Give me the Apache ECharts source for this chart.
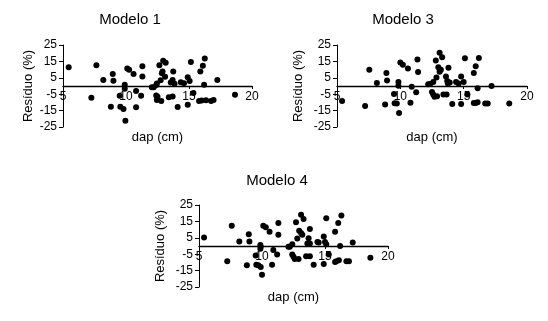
<!DOCTYPE html>
<html>
<head>
<meta charset="utf-8">
<script src="https://cdn.jsdelivr.net/npm/echarts@6/dist/echarts.min.js"></script>
<style>
  html, body { margin: 0; padding: 0; background: #fff; }
  #chart { width: 548px; height: 321px; }
</style>
</head>
<body>
<div id="chart"></div>
<script>
// residuals (%) vs dap (cm)
const modelo1X = [5.45, 7.25, 7.65, 8.2, 8.8, 8.95, 9.0, 9.5, 9.55, 9.8, 9.9, 9.9, 9.95, 10.1, 10.25, 10.6, 10.8, 10.8, 11.2, 11.3, 11.3,
  12.05, 12.2, 12.4, 12.45, 12.4, 12.45, 12.5, 12.65, 12.75, 12.8, 12.85, 12.9, 12.95, 13.15, 13.1, 13.4, 13.7, 13.55, 13.7, 13.75,
  13.85, 14.1, 14.35, 14.6, 14.9, 14.9, 15.05, 15.15, 15.35, 15.8, 15.9, 16.0, 16.1, 16.2, 16.25, 16.35, 16.75, 16.95, 17.25, 18.65]
const modelo1Y = [11.5, -7.2, 12.7, 3.6, -12.6, 7.3, 3.2, -6.0, -12.6, -14.1, 0.7, -1.7, -21.2, 10.6, 9.9, 7.3, -3.0, -13.0, -5.9, 12.0, 5.8,
  -0.7, -0.7, 0.6, 1.6, -5.8, -8.5, -6.5, 12.6, 3.5, -9.2, 7.8, 8.8, 15.4, 14.2, 5.6, -6.8, -6.4, 2.2, 3.7, 8.8,
  1.4, -12.8, 2.3, 1.7, 5.3, -11.5, 3.0, 14.6, -4.2, -9.2, 8.9, -8.8, 12.3, 0.7, 16.7, -8.7, -9.2, -8.5, 3.6, -5.3]

const modelo3X = [5.4, 7.22, 7.55, 8.15, 8.8, 8.9, 8.95, 9.5, 9.55, 9.72, 9.85, 9.85, 9.9, 10.0, 10.2, 10.6, 10.8, 10.9, 11.25, 11.35, 11.4,
  12.2, 12.35, 12.6, 12.5, 12.6, 12.7, 12.8, 12.85, 12.9, 13.0, 13.1, 13.2, 13.1, 13.3, 13.4, 13.65, 13.6, 13.7, 13.75, 13.8,
  13.9, 14.1, 14.4, 14.6, 14.8, 14.8, 15.0, 15.1, 15.3, 15.8, 15.8, 15.95, 16.1, 15.95, 16.1, 16.2, 16.7, 16.9, 17.2, 18.6]
const modelo3Y = [-9.2, -12.2, 9.9, 1.8, -11.3, 7.9, 3.4, -4.9, -10.5, -10.7, 2.4, 0.1, -16.4, 14.4, 13.0, 10.6, -10.2, -0.4, -3.8, 16.2, 8.6,
  1.0, 1.2, 2.5, -3.7, -5.2, -6.6, 15.5, 5.2, -6.2, 11.4, 8.7, 9.9, 20.2, 17.6, -5.2, -5.2, 5.8, 3.1, 1.6, 11.2,
  2.1, -11.0, 2.5, 1.6, 5.8, -11.0, 2.5, 16.9, -5.2, 7.9, -10.3, -10.3, -9.9, 12.0, -1.4, 17.1, -10.7, -10.7, 0.0, -10.7]

const modelo4X = [5.4, 7.24, 7.6, 8.2, 8.8, 8.95, 9.0, 9.5, 9.55, 9.7, 9.87, 9.87, 9.9, 9.9, 10.0, 10.1, 10.3, 10.6, 10.8, 10.9, 11.2,
  11.3, 11.3, 12.1, 12.2, 12.4, 12.4, 12.5, 12.6, 12.7, 12.8, 12.9, 12.95, 13.1, 13.2, 13.1, 13.3, 13.5, 13.8, 13.6, 13.7, 13.8,
  13.8, 14.1, 14.4, 14.5, 14.9, 14.9, 15.0, 15.1, 15.1, 15.3, 15.8, 15.8, 15.9, 16.1, 16.05, 16.2, 16.3, 16.7, 16.9, 17.2, 18.6]
const modelo4Y = [5.2, -9.3, 12.4, 2.7, -11.8, 7.2, 2.7, -5.8, -11.4, -11.8, 0.6, -1.7, -0.4, -12.8, -17.6, 12.4, 11.4, 8.7, -11.4, -2.5, -5.2,
  14.0, 6.8, -0.4, -0.4, 1.0, -5.2, -6.6, -7.9, 14.5, 4.5, -7.9, 9.3, 7.9, 6.8, 19.0, 16.5, -6.2, -6.2, 1.6, 4.8, 1.6,
  10.3, -11.4, 2.5, 2.1, 5.8, -11.0, 2.5, 1.0, 16.9, -5.2, 8.7, -9.7, -9.3, -8.7, 14.0, 0.0, 18.6, -9.3, -9.3, 2.1, -7.2]

const titles = ['Modelo 1', 'Modelo 3', 'Modelo 4']
const xName = 'dap (cm)'
const yName = 'Resíduo (%)'

const font = 'Liberation Sans, Arial, sans-serif'
const black = '#000'

// plot boxes (left, top, width, height)
const boxes = [
  { left: 63, top: 45, width: 189, height: 82, titleX: 125, titleY: 7, yGap: 28 },
  { left: 337, top: 45, width: 190, height: 82, titleX: 398, titleY: 7, yGap: 32 },
  { left: 199, top: 205, width: 189, height: 82, titleX: 272, titleY: 168, yGap: 32 }
]

const xs = [modelo1X, modelo3X, modelo4X]
const ys = [modelo1Y, modelo3Y, modelo4Y]

const chart = echarts.init(document.getElementById('chart'))

const option = {
  backgroundColor: '#fff',
  animation: false,
  title: titles.map((t, i) => ({
    text: t,
    left: boxes[i].titleX,
    top: boxes[i].titleY,
    textAlign: 'center',
    textStyle: { fontFamily: font, fontSize: 15, fontWeight: 'normal', color: black }
  })),
  grid: boxes.map(b => ({
    left: b.left, top: b.top, width: b.width, height: b.height,
    containLabel: false
  })),
  // x axis sits at residual = 0 (middle of the box), Excel style
  xAxis: boxes.map((b, i) => ({
    gridIndex: i,
    type: 'value',
    position: 'bottom',
    offset: -b.height / 2,
    min: 5,
    max: 20,
    interval: 5,
    name: xName,
    nameLocation: 'middle',
    nameGap: 45,
    nameTextStyle: { fontFamily: font, fontSize: 13, color: black },
    axisLine: { onZero: false, lineStyle: { color: black, width: 1.3 } },
    axisTick: { show: true, length: 3, lineStyle: { color: black } },
    axisLabel: { fontFamily: font, fontSize: 12, color: black, margin: 5, showMinLabel: true, showMaxLabel: true },
    splitLine: { show: false }
  })),
  yAxis: boxes.map((b, i) => ({
    gridIndex: i,
    type: 'value',
    min: -25,
    max: 25,
    interval: 10,
    name: yName,
    nameLocation: 'middle',
    nameGap: b.yGap,
    nameTextStyle: { fontFamily: font, fontSize: 13, color: black },
    axisLine: { show: true, onZero: false, lineStyle: { color: black, width: 1 } },
    axisTick: { show: true, length: 4, lineStyle: { color: black } },
    axisLabel: { fontFamily: font, fontSize: 12, color: black, margin: 6, showMinLabel: true, showMaxLabel: true, hideOverlap: false },
    splitLine: { show: false }
  })),
  series: xs.map((xv, i) => ({
    type: 'scatter',
    xAxisIndex: i,
    yAxisIndex: i,
    symbol: 'circle',
    symbolSize: 6,
    itemStyle: { color: black, opacity: 1 },
    data: xv.map((x, k) => [x, ys[i][k]])
  }))
}

chart.setOption(option)
</script>
</body>
</html>
